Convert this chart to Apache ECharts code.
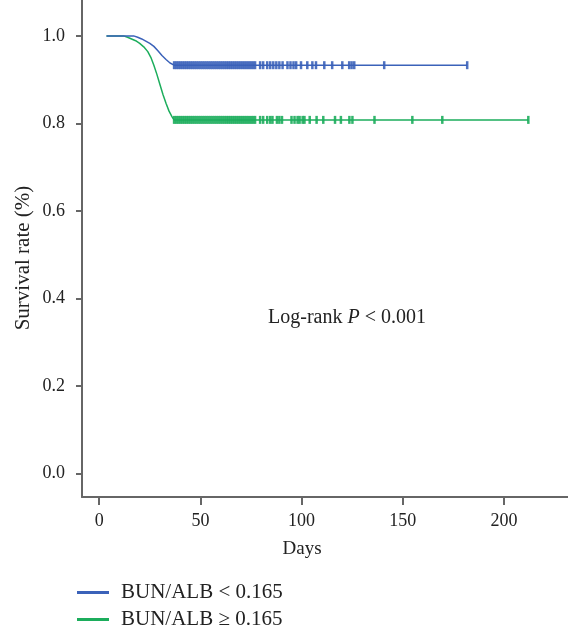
<!DOCTYPE html>
<html><head><meta charset="utf-8">
<script src="https://cdn.jsdelivr.net/npm/echarts@6/dist/echarts.min.js"></script>
<style>html,body{margin:0;padding:0;background:#fff}#c{width:568px;height:627px}</style>
</head><body><div id="c"></div>
<script>
// ---- data ----
var seriesNames = ['BUN/ALB < 0.165', 'BUN/ALB \u2265 0.165'];
var xTicks = [0, 50, 100, 150, 200];
var yTicks = [0, 0.2, 0.4, 0.6, 0.8, 1.0];

var blueDays = [3.6, 17, 19, 21, 23, 25, 27, 29, 31, 33, 35, 37, 181.8];
var blueSurv = [1.0, 1.0, 0.997, 0.993, 0.988, 0.983, 0.976, 0.966, 0.955, 0.946, 0.938, 0.933, 0.933];
var blueCensor = [37,38,39,40,41,42,43,44,45,46,47,48,49,50,51,52,53,54,55,56,57,58,59,60,61,62,63,64,65,66,67,68,69,70,71,72,73,74,75,76,77,
  79.5, 81, 83, 84.5, 86, 87.5, 89, 90.6, 93, 94.5, 96, 97.3, 99.7, 102.8, 105.3, 107.1, 111.2, 115.1, 120.1, 123.5, 124.7, 126, 140.8, 181.8];

var greenDays = [3.6, 12, 14, 16, 18, 20, 22, 24, 25.5, 27, 28.5, 30, 31.5, 33, 34.5, 36, 37, 212];
var greenSurv = [1.0, 1.0, 0.997, 0.993, 0.989, 0.983, 0.975, 0.964, 0.951, 0.933, 0.912, 0.889, 0.866, 0.846, 0.828, 0.815, 0.808, 0.808];
var greenCensor = [37,38,39,40,41,42,43,44,45,46,47,48,49,50,51,52,53,54,55,56,57,58,59,60,61,62,63,64,65,66,67,68,69,70,71,72,73,74,75,76,77,
  79.5, 81, 83, 84.5, 85.6, 87.8, 89, 90.3, 95, 96.5, 98, 99, 100.5, 101.4, 104, 107.4, 110.7, 116.5, 119.4, 123.6, 125.1, 136, 154.7, 169.5, 212];

var colors = ['#3b62b9', '#1cad5c'];

function pairs(xs, ys) { return xs.map(function (x, i) { return [x, ys[i]]; }); }
function survAt(xs, ys, t) { var v = ys[0]; for (var i = 0; i < xs.length; i++) { if (xs[i] <= t) v = ys[i]; } return v; }
function censorPts(cs, xs, ys) { return cs.map(function (t) { return [t, survAt(xs, ys, t)]; }); }

var font = '"Liberation Serif", "DejaVu Serif", serif';
function legendFor(name, top) {
  return { left: 72, top: top, itemWidth: 32, itemHeight: 3, icon: 'rect', data: [name],
    textStyle: { fontFamily: font, fontSize: 21, color: '#222', padding: [0, 0, 0, 7] } };
}
var chart = echarts.init(document.getElementById('c'));
chart.setOption({
  animation: false,
  textStyle: { fontFamily: font },
  grid: { left: 82, right: 0, top: 0, bottom: 130 },
  xAxis: {
    type: 'value', min: -8.5, max: 231.6,
    axisLine: { onZero: false, lineStyle: { color: '#666', width: 2 } },
    axisTick: { show: true, length: 8, customValues: xTicks, lineStyle: { color: '#666', width: 2 } },
    axisLabel: { customValues: xTicks, margin: 15, fontFamily: font, fontSize: 18, color: '#222' },
    splitLine: { show: false }
  },
  yAxis: {
    type: 'value', min: -0.054, max: 1.082,
    axisLine: { show: true, onZero: false, lineStyle: { color: '#666', width: 2 } },
    axisTick: { show: true, length: 6, customValues: yTicks, lineStyle: { color: '#666', width: 2 } },
    axisLabel: { customValues: yTicks, margin: 17, fontFamily: font, fontSize: 18, color: '#222',
      formatter: function (v) { return v.toFixed(1); } },
    splitLine: { show: false }
  },
  legend: [legendFor(seriesNames[0], 577), legendFor(seriesNames[1], 604)],
  graphic: [
    { type: 'text', x: 23, y: 258, rotation: Math.PI / 2,
      style: { text: 'Survival rate (%)', fontFamily: font, fontSize: 21, fill: '#222', align: 'center', verticalAlign: 'middle' } },
    { type: 'text', x: 302, y: 549,
      style: { text: 'Days', fontFamily: font, fontSize: 19, fill: '#222', align: 'center', verticalAlign: 'middle' } },
    { type: 'text', x: 347, y: 318,
      style: { text: '{n|Log-rank }{i|P}{n| < 0.001}', align: 'center', verticalAlign: 'middle',
        rich: { n: { fontFamily: font, fontSize: 20, fill: '#222' }, i: { fontFamily: font, fontSize: 20, fontStyle: 'italic', fill: '#222' } } } }
  ],
  series: [
    { name: seriesNames[0], type: 'line', showSymbol: false, data: pairs(blueDays, blueSurv),
      lineStyle: { color: colors[0], width: 1.5 }, itemStyle: { color: colors[0] }, z: 3 },
    { name: seriesNames[1], type: 'line', showSymbol: false, data: pairs(greenDays, greenSurv),
      lineStyle: { color: colors[1], width: 1.5 }, itemStyle: { color: colors[1] }, z: 2 },
    { name: seriesNames[0], type: 'scatter', symbol: 'rect', symbolSize: [2.5, 8], data: censorPts(blueCensor, blueDays, blueSurv),
      itemStyle: { color: colors[0], opacity: 0.9 }, z: 4, legendHoverLink: false },
    { name: seriesNames[1], type: 'scatter', symbol: 'rect', symbolSize: [2.5, 8], data: censorPts(greenCensor, greenDays, greenSurv),
      itemStyle: { color: colors[1], opacity: 0.9 }, z: 4, legendHoverLink: false }
  ]
});
</script></body></html>
